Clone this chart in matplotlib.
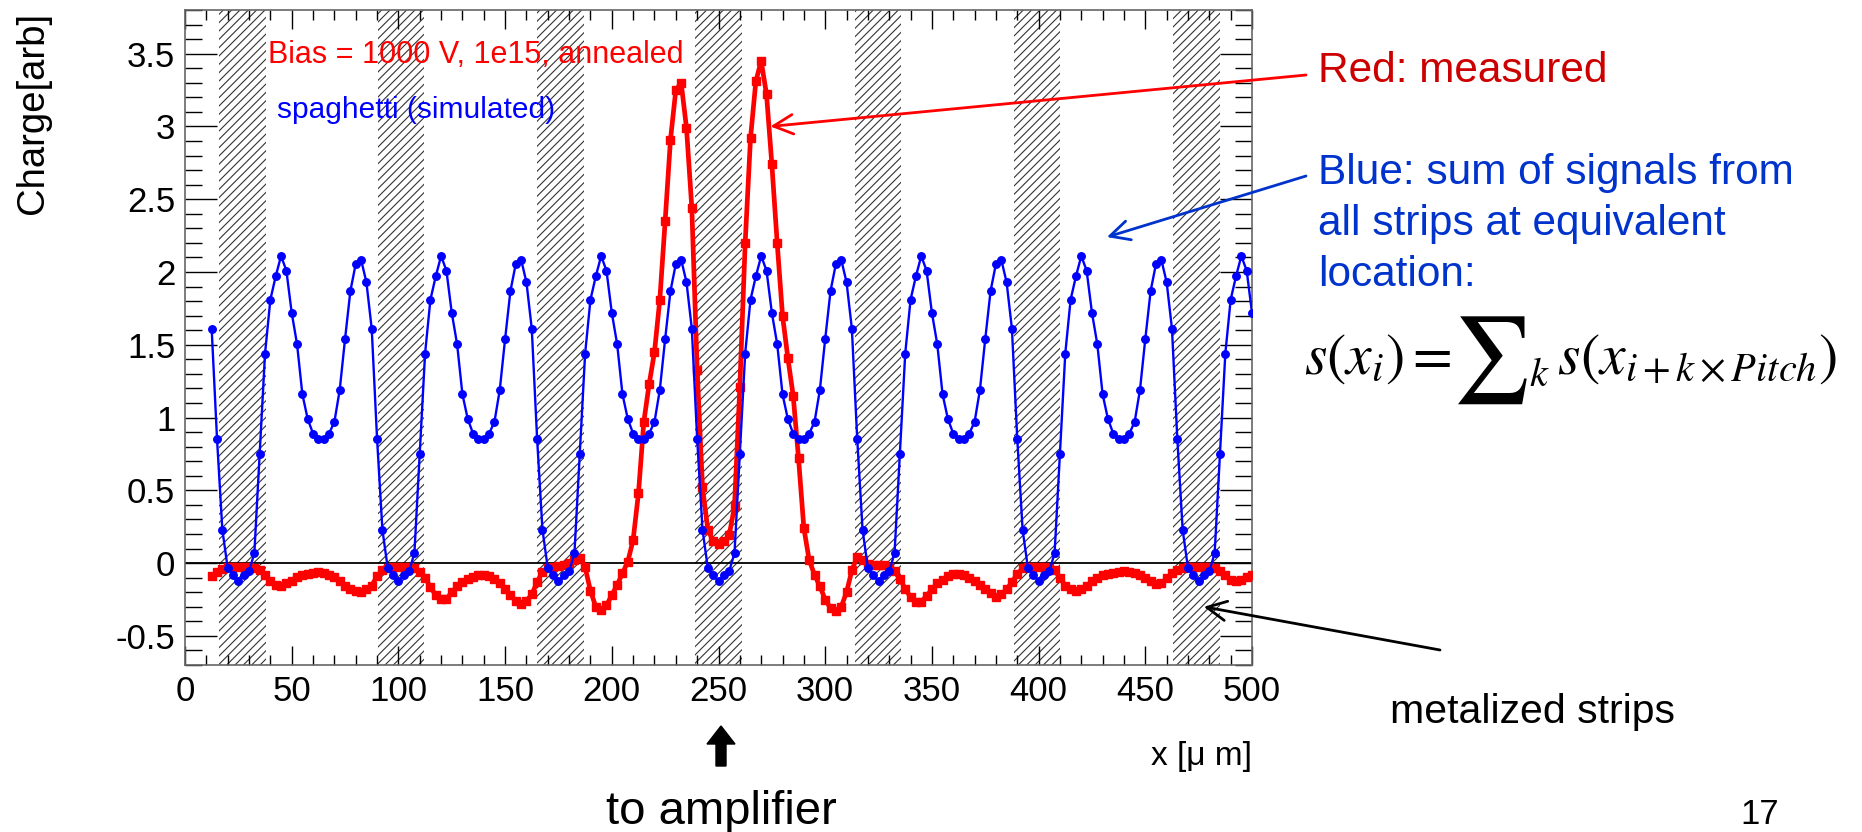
import matplotlib
matplotlib.use("Agg")
import matplotlib.pyplot as plt
import numpy as np
from matplotlib.patches import FancyArrow
from matplotlib.ticker import FormatStrFormatter, MultipleLocator

# sampling grid of both curves (um)
x_first = 12.5
x_step = 2.5

# simulated "spaghetti" sum, one row per strip pitch
blue_charge = [
    1.61, 0.855, 0.23, -0.034, -0.08, -0.126, -0.08, -0.057, 0.069, 0.75, 1.44, 1.81, 1.97, 2.11, 2.01,
    1.72, 1.505, 1.16, 0.99, 0.89, 0.855, 0.855, 0.89, 0.97, 1.19, 1.54, 1.87, 2.055, 2.085, 1.93,
    1.61, 0.855, 0.23, -0.034, -0.08, -0.126, -0.08, -0.057, 0.069, 0.75, 1.44, 1.81, 1.97, 2.11, 2.01,
    1.72, 1.505, 1.16, 0.99, 0.89, 0.855, 0.855, 0.89, 0.97, 1.19, 1.54, 1.87, 2.055, 2.085, 1.93,
    1.61, 0.855, 0.23, -0.034, -0.08, -0.126, -0.08, -0.057, 0.069, 0.75, 1.44, 1.81, 1.97, 2.11, 2.01,
    1.72, 1.505, 1.16, 0.99, 0.89, 0.855, 0.855, 0.89, 0.97, 1.19, 1.54, 1.87, 2.055, 2.085, 1.93,
    1.61, 0.855, 0.23, -0.034, -0.08, -0.126, -0.08, -0.057, 0.069, 0.75, 1.44, 1.81, 1.97, 2.11, 2.01,
    1.72, 1.505, 1.16, 0.99, 0.89, 0.855, 0.855, 0.89, 0.97, 1.19, 1.54, 1.87, 2.055, 2.085, 1.93,
    1.61, 0.855, 0.23, -0.034, -0.08, -0.126, -0.08, -0.057, 0.069, 0.75, 1.44, 1.81, 1.97, 2.11, 2.01,
    1.72, 1.505, 1.16, 0.99, 0.89, 0.855, 0.855, 0.89, 0.97, 1.19, 1.54, 1.87, 2.055, 2.085, 1.93,
    1.61, 0.855, 0.23, -0.034, -0.08, -0.126, -0.08, -0.057, 0.069, 0.75, 1.44, 1.81, 1.97, 2.11, 2.01,
    1.72, 1.505, 1.16, 0.99, 0.89, 0.855, 0.855, 0.89, 0.97, 1.19, 1.54, 1.87, 2.055, 2.085, 1.93,
    1.61, 0.855, 0.23, -0.034, -0.08, -0.126, -0.08, -0.057, 0.069, 0.75, 1.44, 1.81, 1.97, 2.11, 2.01,
    1.72,
]

# measured charge, Bias = 1000 V, 1e15, annealed
red_charge = [
    -0.087, -0.06, -0.04, -0.03, -0.03, -0.03, -0.03, -0.03, -0.035, -0.05,
    -0.085, -0.12, -0.15, -0.16, -0.14, -0.12, -0.092, -0.079, -0.074, -0.067,
    -0.062, -0.066, -0.08, -0.095, -0.12, -0.155, -0.18, -0.195, -0.2, -0.18,
    -0.155, -0.09, -0.05, -0.035, -0.03, -0.03, -0.03, -0.03, -0.035, -0.06,
    -0.1, -0.165, -0.22, -0.245, -0.245, -0.2, -0.16, -0.13, -0.11, -0.095,
    -0.085, -0.082, -0.09, -0.11, -0.14, -0.175, -0.22, -0.26, -0.278, -0.26,
    -0.215, -0.13, -0.06, -0.035, -0.025, -0.02, -0.01, 0.0, 0.02, 0.035,
    -0.03, -0.19, -0.3, -0.32, -0.29, -0.22, -0.15, -0.07, 0.01, 0.16,
    0.48, 0.97, 1.23, 1.45, 1.81, 2.35, 2.91, 3.25, 3.3, 2.99,
    2.44, 1.33, 0.52, 0.23, 0.15, 0.13, 0.15, 0.19, 0.39, 1.21,
    2.2, 2.92, 3.31, 3.45, 3.22, 2.74, 2.2, 1.7, 1.41, 1.15,
    0.72, 0.24, 0.02, -0.08, -0.16, -0.25, -0.31, -0.33, -0.3, -0.2,
    -0.05, 0.045, 0.02, -0.005, -0.01, -0.01, -0.015, -0.03, -0.055, -0.11,
    -0.175, -0.235, -0.27, -0.265, -0.225, -0.18, -0.14, -0.113, -0.09, -0.076,
    -0.073, -0.082, -0.1, -0.125, -0.152, -0.178, -0.205, -0.235, -0.215, -0.18,
    -0.13, -0.075, -0.035, -0.03, -0.03, -0.03, -0.03, -0.035, -0.05, -0.1,
    -0.155, -0.18, -0.195, -0.18, -0.155, -0.125, -0.1, -0.082, -0.073, -0.066,
    -0.062, -0.057, -0.06, -0.07, -0.085, -0.1, -0.126, -0.145, -0.138, -0.105,
    -0.07, -0.045, -0.035, -0.03, -0.03, -0.03, -0.03, -0.03, -0.035, -0.055,
    -0.085, -0.115, -0.126, -0.115, -0.095, -0.08,
]

# metalized strips (left edge and width, um)
strip_left = [15.9, 90.3, 164.9, 239.1, 313.8, 388.3, 462.9]
strip_width = 21.9

x_ticks = [0, 50, 100, 150, 200, 250, 300, 350, 400, 450, 500]
y_ticks = [-0.5, 0, 0.5, 1, 1.5, 2, 2.5, 3, 3.5]

W, H, DPI = 1862, 832, 100

plt.rcParams["font.family"] = ["Liberation Sans", "DejaVu Sans"]
plt.rcParams["axes.unicode_minus"] = False
plt.rcParams["mathtext.fontset"] = "stix"
plt.rcParams["hatch.linewidth"] = 0.8


def fpos(x, y):
    # pixel position in the 1862x832 picture (origin top left) -> figure fraction
    return x / W, 1 - y / H


def draw_formula(fig, x, y):
    # s(x_i) = SUM_k s(x_{i+k x Pitch}), drawn piece by piece so the sum sign can be big
    renderer = fig.canvas.get_renderer()
    pieces = [
        (r"$s(x_i) = $", 41.5, 0),
        (r"$\sum$", 62, 8),
        (r"$k$", 29, 12),
        (r"$\,s(x_{i+k\times Pitch})$", 41.5, 0),
    ]
    for text, size, drop in pieces:
        t = fig.text(*fpos(x, y + drop), text, fontsize=size, va="baseline")
        x = t.get_window_extent(renderer).x1 + 1


def main():
    fig = plt.figure(figsize=(W / DPI, H / DPI), dpi=DPI)
    ax = fig.add_axes([185 / W, 1 - 665 / H, 1067 / W, 655 / H])

    x_blue = x_first + x_step * np.arange(len(blue_charge))
    x_red = x_first + x_step * np.arange(len(red_charge))

    for left in strip_left:
        ax.axvspan(left, left + strip_width, facecolor="none", edgecolor="#333333",
                   hatch="////", lw=0, zorder=1)
    ax.axhline(0, color="black", lw=1.3, zorder=2)

    ax.plot(x_red, red_charge, color="#ff0000", lw=3.4, marker="s", ms=6, zorder=3)
    ax.plot(x_blue, blue_charge, color="#0000ff", lw=1.7, marker="o", ms=5.4, zorder=4)

    ax.set_xlim(0, 500)
    ax.set_ylim(-0.7, 3.8)
    ax.set_xticks(x_ticks)
    ax.set_yticks(y_ticks)
    ax.xaxis.set_minor_locator(MultipleLocator(10))
    ax.yaxis.set_minor_locator(MultipleLocator(0.1))
    ax.yaxis.set_major_formatter(FormatStrFormatter("%g"))
    ax.tick_params(direction="in", top=True, right=True, which="both", labelsize=25, width=1.0, color="black")
    ax.tick_params(axis="x", which="major", length=14, pad=7)
    ax.tick_params(axis="x", which="minor", length=7)
    ax.tick_params(axis="y", which="major", length=23, pad=7)
    ax.tick_params(axis="y", which="minor", length=12)
    for spine in ax.spines.values():
        spine.set_color("#666666")
        spine.set_linewidth(1.2)

    ax.text(*fpos(268, 63), "Bias = 1000 V, 1e15, annealed", transform=fig.transFigure,
            color="#ff0000", fontsize=22, va="baseline")
    ax.text(*fpos(277, 118), "spaghetti (simulated)", transform=fig.transFigure,
            color="#0000ff", fontsize=21.5, va="baseline")

    fig.text(*fpos(33, 12), "Charge[arb]", rotation=90, ha="center", va="top", fontsize=27.5)
    fig.text(*fpos(1252, 757), "x [\u03bc m]", ha="right", va="center", fontsize=24)

    # annotations on the right
    fig.text(*fpos(1318, 82), "Red: measured", color="#cc0000", fontsize=30.5, va="baseline")
    blue_note = ["Blue: sum of signals from", "all strips at equivalent", "location:"]
    for line, y in zip(blue_note, [184, 235, 286]):
        fig.text(*fpos(1318, y), line, color="#0033cc", fontsize=30.5, va="baseline")
    draw_formula(fig, 1304, 374)
    fig.text(*fpos(1532, 712), "metalized strips", ha="center", va="center", fontsize=29.5)
    fig.text(*fpos(721, 812), "to amplifier", ha="center", va="center", fontsize=34)
    fig.text(*fpos(1760, 831), "17", ha="center", va="bottom", fontsize=25)

    arrow_style = "->,head_length=0.7,head_width=0.35"
    ax.annotate("", xy=(274.3, 3.0), xycoords="data", xytext=fpos(1306, 75),
                textcoords="figure fraction", annotation_clip=False,
                arrowprops=dict(arrowstyle=arrow_style, color="#ff0000", lw=2,
                                shrinkA=0, shrinkB=0, mutation_scale=20))
    ax.annotate("", xy=(432, 2.24), xycoords="data", xytext=fpos(1306, 176),
                textcoords="figure fraction", annotation_clip=False,
                arrowprops=dict(arrowstyle=arrow_style, color="#0033cc", lw=2,
                                shrinkA=0, shrinkB=0, mutation_scale=20))
    ax.annotate("", xy=(477.4, -0.30), xycoords="data", xytext=fpos(1440, 650),
                textcoords="figure fraction", annotation_clip=False,
                arrowprops=dict(arrowstyle=arrow_style, color="black", lw=2,
                                shrinkA=0, shrinkB=0, mutation_scale=20))

    x0, y0 = fpos(721, 766)
    fig.add_artist(FancyArrow(x0, y0, 0, 40 / H, width=10 / W, head_width=28 / W,
                              head_length=18 / H, length_includes_head=True,
                              transform=fig.transFigure, color="black"))

    fig.savefig("out.png", dpi=DPI)
    plt.close(fig)


if __name__ == "__main__":
    main()
